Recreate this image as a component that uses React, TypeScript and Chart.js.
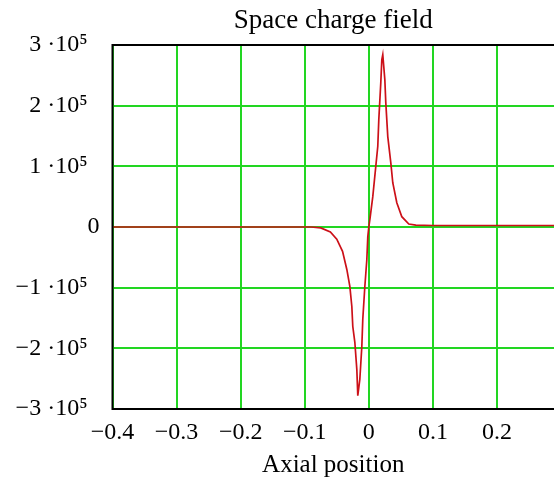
import React, { useEffect, useRef } from "react";
import { Chart, registerables } from "chart.js";

Chart.register(...registerables);

// Axial position samples and field values (V/m)
const positions = [
  -0.4, -0.2, -0.09, -0.075, -0.06, -0.05, -0.041, -0.0343, -0.0296, -0.0265,
  -0.025, -0.0218, -0.0187, -0.0172, -0.014, -0.0109, -0.0094, -0.0062, -0.0031,
  -0.0016, 0.0, 0.002, 0.0062, 0.0109, 0.014, 0.0156, 0.0187, 0.0203, 0.0218,
  0.025, 0.0265, 0.0296, 0.0343, 0.0374, 0.0437, 0.0515, 0.0624, 0.0733, 0.1,
  0.2, 0.3,
];
const field = [
  0, 0, 0, -1500, -8000, -20000, -40000, -70000, -98000, -131000,
  -164000, -190000, -235000, -278000, -251000, -197000, -152000, -98000, -54000,
  -16000, 0, 15000, 50000, 100000, 133000, 177000, 238000, 276000, 284000,
  243000, 205000, 149000, 106000, 73000, 40000, 17000, 5000, 3000, 2500,
  2500, 2500,
];

const xTicks = [-0.4, -0.3, -0.2, -0.1, 0, 0.1, 0.2];
const yTicks = [-300000, -200000, -100000, 0, 100000, 200000, 300000];

const chartTitle = "Space charge field";
const xTitle = "Axial position";

const FONT = "'Liberation Serif', 'Times New Roman', serif";
const GREEN = "#22d622";

const framePlugin = {
  id: "frame",
  afterDraw(chart: any) {
    const { ctx, chartArea } = chart;
    ctx.save();
    ctx.strokeStyle = "#000";
    ctx.lineWidth = 2;
    ctx.beginPath();
    ctx.moveTo(chartArea.right + 2, chartArea.top);
    ctx.lineTo(chartArea.left, chartArea.top);
    ctx.lineTo(chartArea.left, chartArea.bottom);
    ctx.lineTo(chartArea.right + 2, chartArea.bottom);
    ctx.stroke();
    ctx.restore();
  },
};

function fmtX(v: number) {
  const r = Math.round(v * 10) / 10;
  if (r === 0) return "0";
  return (r < 0 ? "\u2212" : "") + Math.abs(r).toFixed(1);
}

function fmtY(v: number) {
  const r = Math.round(v / 100000);
  if (r === 0) return "0";
  return (r < 0 ? "\u2212" : "") + Math.abs(r) + " \u00b710\u2075\u2002";
}

export default function App() {
  const ref = useRef<HTMLCanvasElement | null>(null);

  useEffect(() => {
    if (!ref.current) return;
    const chart = new Chart(ref.current, {
      type: "line",
      data: {
        datasets: [
          {
            data: positions.map((x, i) => ({ x, y: field[i] })),
            borderColor: "#cc1018",
            borderWidth: 1.7,
            pointRadius: 0,
            tension: 0,
            fill: false,
          },
        ],
      },
      plugins: [framePlugin],
      options: {
        animation: false,
        responsive: false,
        maintainAspectRatio: false,
        layout: { padding: 0 },
        plugins: {
          legend: { display: false },
          tooltip: { enabled: false },
          title: {
            display: true,
            text: chartTitle,
            fullSize: false,
            color: "#000",
            font: { family: FONT, size: 27, weight: "normal" },
            padding: { top: 5, bottom: 7.6 },
          },
        },
        scales: {
          x: {
            type: "linear",
            min: -0.4,
            max: 0.289,
            afterBuildTicks: (scale: any) => {
              scale.ticks = xTicks.map((v) => ({ value: v }));
            },
            afterFit: (scale: any) => {
              scale.height = 71;
            },
            grid: { color: GREEN, lineWidth: 2, drawTicks: false },
            border: { display: false },
            ticks: {
              color: "#000",
              padding: 9,
              maxRotation: 0,
              autoSkip: false,
              font: { family: FONT, size: 24 },
              callback: (v: any) => fmtX(Number(v)),
            },
            title: {
              display: true,
              text: xTitle,
              color: "#000",
              font: { family: FONT, size: 25 },
              padding: { top: 0, bottom: 0 },
            },
          },
          y: {
            type: "linear",
            min: -300000,
            max: 300000,
            afterBuildTicks: (scale: any) => {
              scale.ticks = yTicks.map((v) => ({ value: v }));
            },
            afterFit: (scale: any) => {
              scale.width = 112.5;
            },
            grid: { color: GREEN, lineWidth: 2, drawTicks: false },
            border: { display: false },
            ticks: {
              color: "#000",
              padding: 13,
              autoSkip: false,
              font: { family: FONT, size: 24 },
              callback: (v: any) => fmtY(Number(v)),
            },
          },
        },
      },
    } as any);
    return () => chart.destroy();
  }, []);

  return (
    <div style={{ position: "fixed", left: 0, top: 0, width: 554, height: 480, background: "#fff" }}>
      <canvas ref={ref} width={554} height={480} style={{ width: 554, height: 480 }} />
    </div>
  );
}
